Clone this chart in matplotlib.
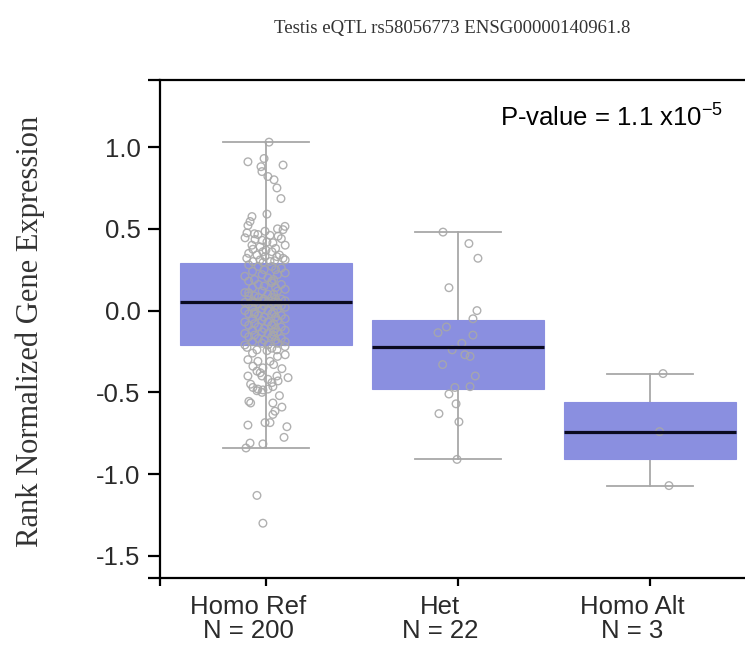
import matplotlib
matplotlib.use("Agg")
import matplotlib.pyplot as plt
import matplotlib.transforms as mtransforms

plt.rcParams['font.family'] = ['Liberation Sans', 'DejaVu Sans']

# ---------------- data ----------------
title = "Testis eQTL rs58056773 ENSG00000140961.8"
ylabel = "Rank Normalized Gene Expression"
categories = ["Homo Ref\nN = 200", "Het\nN = 22", "Homo Alt\nN = 3"]
pvalue_label = r"P-value = 1.1 x10$\mathregular{^{-5}}$"
ytick_values = [-1.5, -1.0, -0.5, 0.0, 0.5, 1.0]
ytick_labels = ["-1.5", "-1.0", "-0.5", "0.0", "0.5", "1.0"]

# box statistics
box_q1 = [-0.21, -0.48, -0.905]
box_med = [0.05, -0.22, -0.74]
box_q3 = [0.29, -0.055, -0.56]
box_whislo = [-0.84, -0.91, -1.07]
box_whishi = [1.03, 0.48, -0.385]

# Homo Ref points visible above the box
ref_upper_values = [1.03, 0.91, 0.93, 0.89, 0.88, 0.85, 0.82, 0.80, 0.75, 0.685,
                    0.59, 0.575, 0.545, 0.52, 0.515, 0.495, 0.485, 0.475, 0.465, 0.46,
                    0.455, 0.445, 0.435, 0.42, 0.415, 0.40, 0.39, 0.375, 0.36, 0.36,
                    0.34, 0.33, 0.33, 0.32, 0.31, 0.30, 0.30, 0.47, 0.44, 0.38,
                    0.35, 0.31, 0.43, 0.50, 0.40, 0.37, 0.32, 0.34, 0.305, 0.295]
ref_upper_jitter = [0.016, -0.094, -0.01, 0.089, -0.026, -0.021, 0.01, 0.042, 0.057, 0.078,
                    0.005, -0.073, -0.083, -0.094, 0.099, 0.089, -0.005, -0.099, -0.042, 0.021,
                    0.063, -0.109, -0.057, 0.005, 0.036, -0.073, -0.031, -0.068, -0.016, 0.031,
                    -0.047, -0.005, 0.057, 0.089, -0.031, -0.068, 0.021, -0.06, 0.08, 0.05,
                    -0.09, 0.10, -0.02, 0.06, 0.10, 0.0, -0.10, 0.07, 0.045, -0.015]

# Homo Ref points visible below the box
ref_lower_values = [-0.225, -0.24, -0.245, -0.24, -0.22, -0.30, -0.31, -0.31, -0.34, -0.35,
                    -0.355, -0.37, -0.40, -0.40, -0.40, -0.41, -0.42, -0.43, -0.44, -0.47,
                    -0.48, -0.485, -0.48, -0.465, -0.49, -0.50, -0.555, -0.565, -0.565, -0.59,
                    -0.615, -0.635, -0.70, -0.685, -0.685, -0.71, -0.775, -0.81, -0.815, -0.84,
                    -1.13, -1.30, -0.23, -0.26, -0.28, -0.33, -0.38, -0.45, -0.52, -0.27]
ref_lower_jitter = [-0.099, -0.047, 0.005, 0.057, 0.099, -0.094, -0.042, 0.021, -0.068, -0.016,
                    0.083, -0.047, -0.094, -0.021, 0.057, 0.115, 0.01, 0.063, 0.031, -0.068,
                    -0.042, -0.016, 0.01, 0.036, -0.047, -0.021, -0.089, -0.08, 0.036, 0.083,
                    0.047, 0.036, -0.094, -0.005, 0.021, 0.109, 0.094, -0.083, -0.016, -0.104,
                    -0.047, -0.016, 0.03, -0.07, 0.06, 0.04, -0.03, -0.08, 0.07, 0.10]

# Homo Ref points inside the box (dense cloud)
ref_box_values = [0.28, 0.27, 0.27, 0.26, 0.25, 0.25, 0.24, 0.23, 0.22, 0.22,
                  0.21, 0.20, 0.19, 0.19, 0.18, 0.17, 0.16, 0.16, 0.15, 0.14,
                  0.14, 0.13, 0.12, 0.12, 0.11, 0.10, 0.10, 0.09, 0.09, 0.08,
                  0.08, 0.07, 0.07, 0.07, 0.06, 0.06, 0.06, 0.05, 0.05, 0.05,
                  0.05, 0.05, 0.04, 0.04, 0.04, 0.03, 0.03, 0.03, 0.02, 0.02,
                  0.01, 0.01, 0.00, 0.00, -0.01, -0.01, -0.02, -0.02, -0.03, -0.03,
                  -0.04, -0.04, -0.05, -0.05, -0.06, -0.06, -0.07, -0.07, -0.08, -0.08,
                  -0.09, -0.09, -0.10, -0.10, -0.11, -0.11, -0.12, -0.12, -0.13, -0.13,
                  -0.14, -0.14, -0.15, -0.15, -0.16, -0.16, -0.17, -0.17, -0.18, -0.18,
                  -0.19, -0.19, -0.20, -0.20, -0.21, -0.21, -0.13, -0.02, 0.11, 0.18]
box_jitter_cycle = [-0.09, 0.03, -0.04, 0.08, -0.01, 0.05, -0.07, 0.10, -0.02, 0.06, -0.11, 0.01, 0.04, -0.06]

het_values = [0.48, 0.41, 0.32, 0.14, 0.00, -0.05, -0.135, -0.15, -0.27, -0.28, -0.47,
              -0.465, -0.51, -0.57, -0.63, -0.68, -0.91, -0.10, -0.20, -0.33, -0.40, -0.24]
het_jitter = [-0.078, 0.057, 0.104, -0.047, 0.099, 0.078, -0.104, 0.078, 0.036, 0.063, -0.016,
              0.063, -0.047, -0.01, -0.099, 0.005, -0.005, -0.06, 0.02, -0.08, 0.09, -0.03]

alt_values = [-0.385, -1.07, -0.74]
alt_jitter = [0.068, 0.099, 0.05]

# ---------------- figure ----------------
W, H = 745, 648
fig = plt.figure(figsize=(W / 100, H / 100), dpi=100)
ax = fig.add_axes([160 / W, 70 / H, 1 - 160 / W, (578 - 80) / H])

box_color = "#8a8fe0"
grey = "#a8a8a8"

stats = []
for i in range(len(categories)):
    stats.append(dict(med=box_med[i], q1=box_q1[i], q3=box_q3[i],
                      whislo=box_whislo[i], whishi=box_whishi[i], fliers=[]))

ax.bxp(stats, positions=range(len(categories)), widths=0.9, capwidths=0.45,
       patch_artist=True, showfliers=False,
       boxprops=dict(facecolor=box_color, edgecolor=box_color, linewidth=0.8, zorder=2),
       whiskerprops=dict(color=grey, linewidth=1.3, zorder=1),
       capprops=dict(color=grey, linewidth=1.3, zorder=1),
       medianprops=dict(color="#0a0a20", linewidth=2.3, zorder=5))

ref_all_values = ref_upper_values + ref_lower_values + ref_box_values
ref_all_jitter = (ref_upper_jitter + ref_lower_jitter +
                  [box_jitter_cycle[i % len(box_jitter_cycle)] for i in range(len(ref_box_values))])

groups = [(ref_all_values, ref_all_jitter), (het_values, het_jitter), (alt_values, alt_jitter)]
for pos, (vals, jit) in enumerate(groups):
    xs = [pos + j for j in jit]
    ax.scatter(xs, vals, s=30, facecolors="none", edgecolors=grey, linewidths=1.0,
               alpha=0.9, zorder=3)

ax.set_xlim(-0.552, 2.495)
ax.set_ylim(-1.635, 1.41)

ax.set_yticks(ytick_values)
ax.set_yticklabels(ytick_labels)
ax.set_yticks([-1.635, 1.41], minor=True)
ax.set_xticks(range(len(categories)))
ax.set_xticklabels(categories, linespacing=1.0)
ax.set_xticks([-0.552], minor=True)

for side in ["left", "top", "bottom"]:
    ax.spines[side].set_linewidth(1.6)
    ax.spines[side].set_color("black")
ax.spines["right"].set_visible(False)

ax.tick_params(axis="y", which="both", direction="out", length=8.5, width=1.6,
               color="black", labelsize=18.5, labelcolor="#2a2a2a", pad=5.5)
ax.tick_params(axis="x", which="both", direction="out", length=6, width=1.6,
               color="black", labelsize=18.5, labelcolor="#2a2a2a", pad=6)

offset = mtransforms.ScaledTranslation(-18 / 100, 0, fig.dpi_scale_trans)
for lab in ax.get_xticklabels():
    lab.set_transform(lab.get_transform() + offset)

ax.text(2.38, 1.18, pvalue_label, ha="right", va="center", fontsize=18.5, color="black")

fig.text(452 / W, 1 - 28 / H, title, ha="center", va="center",
         family=["Liberation Serif", "DejaVu Serif"], fontsize=13.5, color="#333333")
fig.text(30 / W, 1 - 331 / H, ylabel, ha="center", va="center", rotation=90,
         family=["Liberation Serif", "DejaVu Serif"], fontsize=22, color="#333333")

fig.savefig("out.png", dpi=100)
